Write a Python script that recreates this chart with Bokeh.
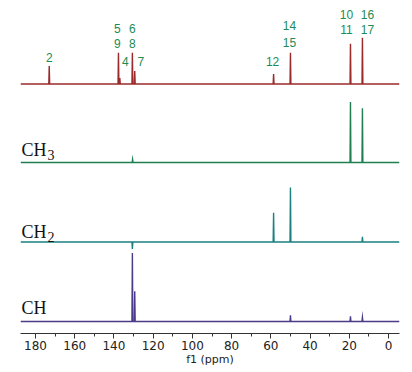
from bokeh.plotting import figure
from bokeh.models import Range1d, SingleIntervalTicker
from bokeh.core.properties import value
from bokeh.embed import file_html
from bokeh.resources import INLINE

# ---- data (ppm positions and peak heights) ----
full_ppm = [173.0, 137.7, 137.0, 130.6, 129.4, 58.6, 50.0, 19.4, 13.3]
full_h = [18, 31, 6, 31, 13, 10, 31, 40, 46]
ch3_ppm = [130.5, 19.4, 13.3]
ch3_h = [3, 60, 54]
ch2_ppm = [130.6, 58.6, 50.0, 13.3]
ch2_h = [-7, 29, 54, 5]
ch_ppm = [130.6, 129.4, 50.0, 19.4, 13.3]
ch_h = [68, 30, 6, 5, 4]

# peak assignment labels: text, ppm of the peak, line height above baseline
lab_text = ["2", "5", "9", "4", "6", "8", "7", "12", "14", "15", "10", "11", "16", "17"]
lab_ppm = [173.0, 137.7, 137.7, 137.7, 130.6, 130.6, 129.4, 58.6, 50.0, 50.0, 19.4, 19.4, 13.3, 13.3]
lab_row = [26, 55, 40, 22, 55, 40, 22, 22, 58, 41, 69, 54, 69, 54]
lab_dx = [0, -1, -1, 7, 0, 0, 6, -1, -1, -1, -4, -4, 5, 5]

spec_names = ["CH", "CH", "CH"]
spec_subs = ["3", "2", ""]

X0, X1 = 187.65, -5.6
BASE_FULL, BASE_CH3, BASE_CH2, BASE_CH = 248, 170, 91, 12

RED = "#9b2b2b"
GREEN = "#1f7f52"
TEAL = "#1b8080"
PURPLE = "#4c3b88"
LABEL = "#1e8a55"


def trace(ppm, h, base):
    xs, ys = [X0], [base]
    for p, hh in sorted(zip(ppm, h), reverse=True):
        xs += [p + 0.22, p, p - 0.22]
        ys += [base, base + hh, base]
    xs.append(X1)
    ys.append(base)
    return xs, ys


p = figure(width=404, height=368, output_backend="svg", toolbar_location=None,
           x_range=Range1d(X0, X1), y_range=Range1d(0, 331),
           y_axis_location=None,
           min_border_left=20, min_border_right=5, min_border_top=0, min_border_bottom=30)
p.grid.visible = False
p.outline_line_color = None
p.background_fill_color = "white"

for ppm, h, base, col in [(full_ppm, full_h, BASE_FULL, RED),
                          (ch3_ppm, ch3_h, BASE_CH3, GREEN),
                          (ch2_ppm, ch2_h, BASE_CH2, TEAL),
                          (ch_ppm, ch_h, BASE_CH, PURPLE)]:
    xs, ys = trace(ppm, h, base)
    p.line(xs, ys, line_color=col, line_width=1.4, line_join="miter")

# peak labels
p.text(x=lab_ppm, y=[BASE_FULL + r for r in lab_row], text=lab_text,
       x_offset=lab_dx, text_color=LABEL, text_font=value("Liberation Sans"),
       text_font_size="12px", text_align="center", text_baseline="middle")

# multiplicity labels
name_y = [BASE_CH3 + 12, BASE_CH2 + 10, BASE_CH + 13]
p.text(x=[X0] * 3, y=name_y, text=spec_names, x_offset=1,
       text_font=value("Liberation Serif"), text_font_size="18px",
       text_color="#111111", text_align="left", text_baseline="alphabetic")
p.text(x=[X0] * 3, y=name_y, text=spec_subs, x_offset=27, y_offset=5,
       text_font=value("Liberation Serif"), text_font_size="14px",
       text_color="#111111", text_align="left", text_baseline="alphabetic")

ax = p.xaxis[0]
ax.ticker = SingleIntervalTicker(interval=20, num_minor_ticks=2)
ax.axis_label = "f1 (ppm)"
ax.axis_label_text_font = "DejaVu Sans"
ax.axis_label_text_font_size = "11px"
ax.axis_label_text_font_style = "normal"
ax.axis_label_text_color = "#222222"
ax.axis_label_standoff = 0
ax.major_label_text_font = "DejaVu Sans"
ax.major_label_text_font_size = "12px"
ax.major_label_text_color = "#222222"
ax.major_label_standoff = 2
ax.axis_line_color = "#333333"
ax.major_tick_line_color = "#333333"
ax.minor_tick_line_color = "#333333"
ax.major_tick_in = 0
ax.major_tick_out = 5
ax.minor_tick_in = 0
ax.minor_tick_out = 3

open("out.html", "w").write(file_html(p, INLINE))
